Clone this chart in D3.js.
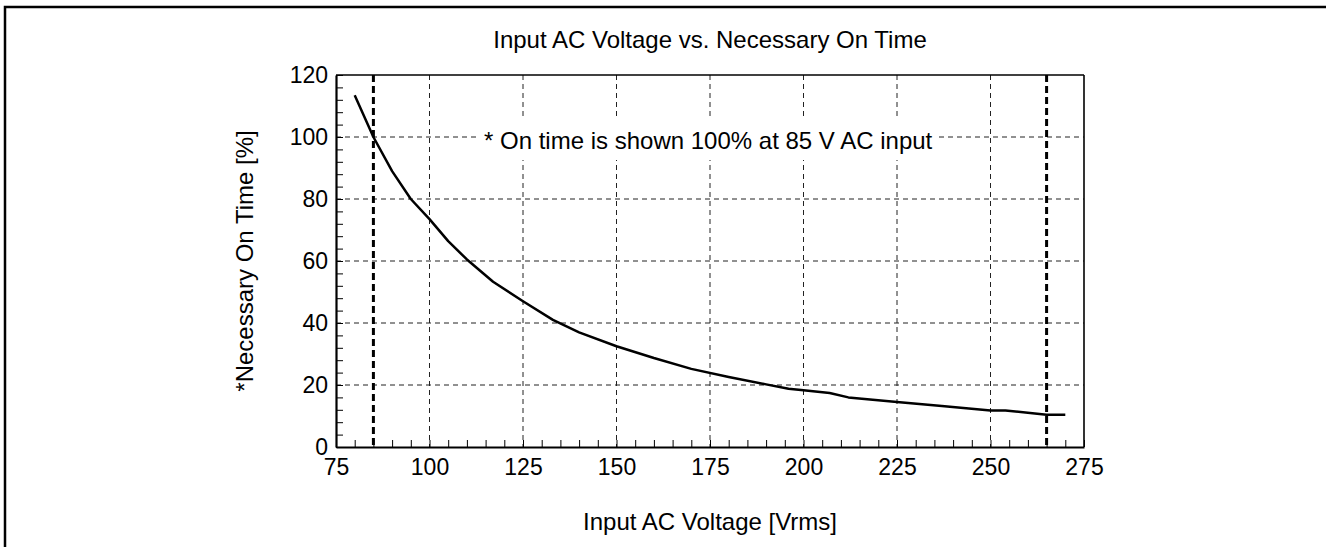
<!DOCTYPE html>
<html>
<head>
<meta charset="utf-8">
<script src="https://cdn.jsdelivr.net/npm/d3@7"></script>
<style>
  body { margin: 0; background: #fff; }
  text { font-family: "Liberation Sans", Arial, sans-serif; fill: #000; }
</style>
</head>
<body>
<svg id="chart" width="1326" height="547"></svg>
<script>
// values
var voltage = [80, 85, 90, 95, 100, 105, 110, 117, 125, 133, 140, 150, 160, 170, 180, 190, 196, 200, 207, 212, 225, 237, 250, 254, 265, 270];
var onTime  = [113.5, 100, 89, 80, 73.5, 66.4, 60.5, 53.3, 47, 41, 37, 32.5, 28.7, 25.2, 22.6, 20.2, 18.8, 18.3, 17.4, 16, 14.5, 13.2, 11.8, 11.8, 10.4, 10.4];
var xGrid = [100, 125, 150, 175, 200, 225, 250];
var yGrid = [20, 40, 60, 80, 100];
var limitLines = [85, 265];
var xLabels = [75, 100, 125, 150, 175, 200, 225, 250, 275];
var yLabels = [0, 20, 40, 60, 80, 100, 120];
var titleText = "Input AC Voltage vs. Necessary On Time";
var noteText = "* On time is shown 100% at 85 V AC input";

var svg = d3.select("#chart");
var mLeft = 336, mTop = 75, mRight = 1084, mBottom = 447;
var w = mRight - mLeft, h = mBottom - mTop;

// outer frame (runs off the right and bottom edges)
svg.append("rect")
    .attr("x", 5).attr("y", 7)
    .attr("width", 1400).attr("height", 600)
    .attr("fill", "none").attr("stroke", "#000").attr("stroke-width", 2.5);

var x = d3.scaleLinear().domain([75, 275]).range([0, w]);
var y = d3.scaleLinear().domain([0, 120]).range([h, 0]);

var g = svg.append("g").attr("transform", "translate(" + mLeft + "," + mTop + ")");

// grid
g.selectAll("line.vgrid").data(xGrid).enter().append("line")
    .attr("class", "vgrid")
    .attr("x1", function(d) { return x(d); }).attr("x2", function(d) { return x(d); })
    .attr("y1", 0).attr("y2", h)
    .attr("stroke", "#222").attr("stroke-width", 1).attr("stroke-dasharray", "5,4");
g.selectAll("line.hgrid").data(yGrid).enter().append("line")
    .attr("class", "hgrid")
    .attr("x1", 0).attr("x2", w)
    .attr("y1", function(d) { return y(d); }).attr("y2", function(d) { return y(d); })
    .attr("stroke", "#222").attr("stroke-width", 1).attr("stroke-dasharray", "5,4");

// note with white backing
var note = g.append("text")
    .attr("x", x(174.5)).attr("y", y(100) + 12)
    .attr("text-anchor", "middle")
    .style("font-size", "24px")
    .text(noteText);
var bb = note.node().getBBox();
g.insert("rect", "text")
    .attr("x", bb.x - 5).attr("y", y(100) - 20)
    .attr("width", bb.width + 10).attr("height", 43)
    .attr("fill", "#fff");

// 85 V and 265 V limits
g.selectAll("line.limit").data(limitLines).enter().append("line")
    .attr("class", "limit")
    .attr("x1", function(d) { return x(d); }).attr("x2", function(d) { return x(d); })
    .attr("y1", 0).attr("y2", h)
    .attr("stroke", "#000").attr("stroke-width", 3).attr("stroke-dasharray", "7,4");

// curve
var pts = voltage.map(function(v, i) { return [v, onTime[i]]; });
g.append("path")
    .datum(pts)
    .attr("fill", "none").attr("stroke", "#000").attr("stroke-width", 2.5)
    .attr("stroke-linejoin", "round")
    .attr("d", d3.line()
        .x(function(d) { return x(d[0]); })
        .y(function(d) { return y(d[1]); }));

// axes
var xAxis = d3.axisBottom(x)
    .tickValues(d3.range(75, 276, 5))
    .tickSizeInner(-7).tickSizeOuter(0).tickPadding(12)
    .tickFormat(function(d) { return xLabels.indexOf(d) >= 0 ? d : ""; });
var yAxis = d3.axisLeft(y)
    .tickValues(d3.range(0, 121, 4))
    .tickSizeInner(-7).tickSizeOuter(0).tickPadding(8)
    .tickFormat(function(d) { return yLabels.indexOf(d) >= 0 ? d : ""; });

var gx = g.append("g").attr("transform", "translate(0," + h + ")").call(xAxis);
var gy = g.append("g").call(yAxis);
[gx, gy].forEach(function(a) {
  a.attr("font-family", null).attr("font-size", null);
  a.select(".domain").attr("stroke-width", 2.2);
  a.selectAll(".tick line").attr("stroke", "#000");
  a.selectAll("text").style("font-size", "23px").attr("fill", "#000");
});

// top and right border of the plot
g.append("line").attr("x1", 0).attr("x2", w).attr("y1", 0).attr("y2", 0)
    .attr("stroke", "#000").attr("stroke-width", 1.6);
g.append("line").attr("x1", w).attr("x2", w).attr("y1", 0).attr("y2", h)
    .attr("stroke", "#000").attr("stroke-width", 1.6);

// titles
svg.append("text")
    .attr("x", mLeft + w / 2).attr("y", 48)
    .attr("text-anchor", "middle").style("font-size", "24px")
    .text(titleText);
svg.append("text")
    .attr("x", mLeft + w / 2).attr("y", 530)
    .attr("text-anchor", "middle").style("font-size", "24px")
    .text("Input AC Voltage [Vrms]");
svg.append("text")
    .attr("transform", "translate(253," + (mTop + h / 2) + ") rotate(-90)")
    .attr("text-anchor", "middle").style("font-size", "24px")
    .text("*Necessary On Time [%]");
</script>
</body>
</html>
